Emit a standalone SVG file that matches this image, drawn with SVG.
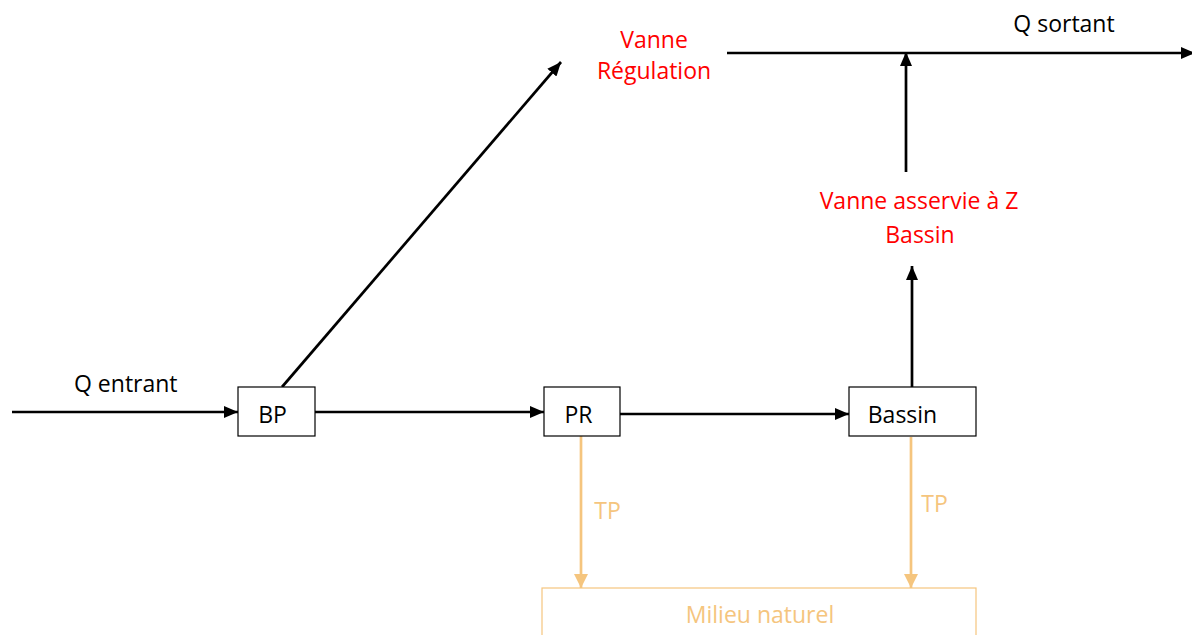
<svg xmlns="http://www.w3.org/2000/svg" width="1192" height="635" viewBox="0 0 1192 635">
<defs>
<style>
text{font-family:"Open Sans","Noto Sans",sans-serif;font-size:23px;}
.k{fill:#000}
.r{fill:#FF0000}
.o{fill:#F5C57E}
.box{fill:#fff;stroke:#000;stroke-width:1.2}
.obox{fill:#fff;stroke:#F5C57E;stroke-width:1.2}
.ln{stroke:#000;stroke-width:2.7;fill:none}
.oln{stroke:#F5C57E;stroke-width:2.7;fill:none}
</style>
<marker id="ah" viewBox="0 0 14 12" refX="14" refY="6" markerWidth="14" markerHeight="12" markerUnits="userSpaceOnUse" orient="auto"><path d="M0,0 L14,6 L0,12 Z" fill="#000"/></marker>
<marker id="oh" viewBox="0 0 14 14" refX="14" refY="7" markerWidth="14" markerHeight="14" markerUnits="userSpaceOnUse" orient="auto"><path d="M0,0 L14,7 L0,14 Z" fill="#F5C57E"/></marker>
</defs>
<g id="connectors">
<line class="ln" x1="12" y1="412" x2="238" y2="412" marker-end="url(#ah)"/>
<line class="ln" x1="315" y1="412" x2="544" y2="412" marker-end="url(#ah)"/>
<line class="ln" x1="620" y1="414" x2="849" y2="414" marker-end="url(#ah)"/>
<line class="ln" x1="282" y1="387" x2="561" y2="62" marker-end="url(#ah)"/>
<line class="ln" x1="912" y1="387" x2="912" y2="266" marker-end="url(#ah)"/>
<line class="ln" x1="906" y1="172" x2="906" y2="52" marker-end="url(#ah)"/>
<line class="ln" x1="727" y1="53" x2="1195" y2="53" marker-end="url(#ah)"/>
<line class="oln" x1="581" y1="436" x2="581" y2="588" marker-end="url(#oh)"/>
<line class="oln" x1="911" y1="437" x2="911" y2="588" marker-end="url(#oh)"/>
</g>
<g id="label-q-entrant"><text class="k" x="74" y="392">Q entrant</text></g>
<g id="node-bp"><rect class="box" x="238" y="387" width="77" height="49"/><text class="k" x="272.5" y="423" text-anchor="middle">BP</text></g>
<g id="node-pr"><rect class="box" x="544" y="387" width="76" height="49"/><text class="k" x="578.5" y="423" text-anchor="middle">PR</text></g>
<g id="node-bassin"><rect class="box" x="849" y="387" width="127" height="49"/><text class="k" x="902.5" y="423" text-anchor="middle">Bassin</text></g>
<g id="node-vanne-regulation"><text class="r" x="654" y="48" text-anchor="middle">Vanne</text><text class="r" x="654" y="79" text-anchor="middle">Régulation</text></g>
<g id="node-vanne-asservie"><text class="r" x="919" y="209" text-anchor="middle">Vanne asservie à Z</text><text class="r" x="920" y="243" text-anchor="middle">Bassin</text></g>
<g id="label-q-sortant"><text class="k" x="1064" y="32" text-anchor="middle">Q sortant</text></g>
<g id="label-tp1"><text class="o" x="607.5" y="519" text-anchor="middle">TP</text></g>
<g id="label-tp2"><text class="o" x="934.5" y="512" text-anchor="middle">TP</text></g>
<g id="node-milieu"><rect class="obox" x="542" y="588" width="434" height="60"/><text class="o" x="760" y="623" text-anchor="middle">Milieu naturel</text></g>
</svg>
